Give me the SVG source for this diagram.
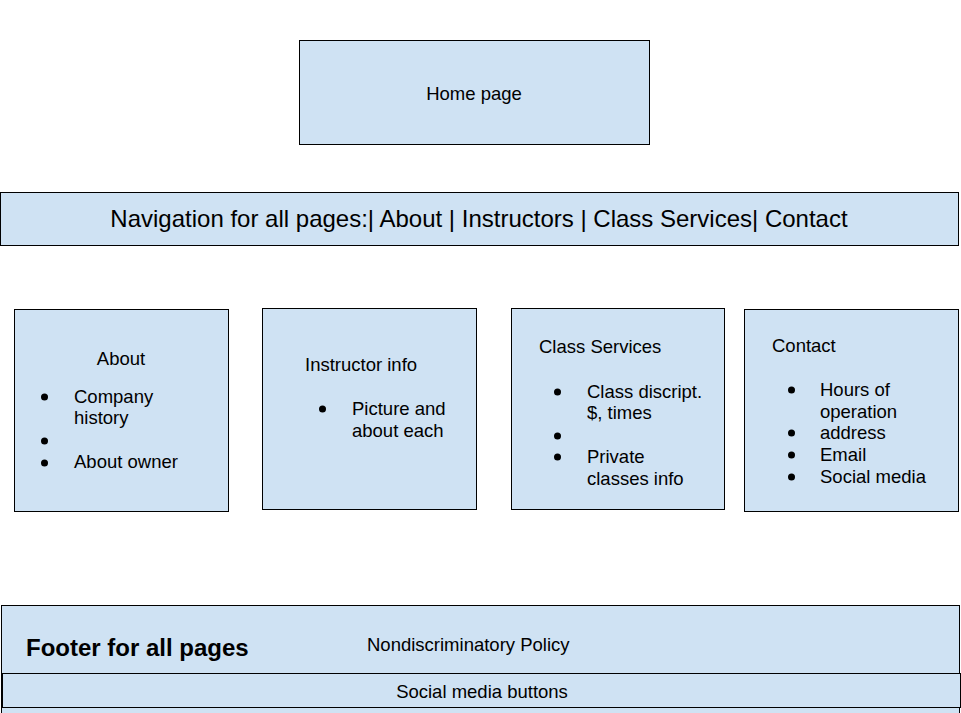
<svg xmlns="http://www.w3.org/2000/svg" width="961" height="713" viewBox="0 0 961 713">
<style>
.box{fill:#cfe2f3;stroke:#000;stroke-width:1}
text{font-family:"Liberation Sans",Arial,sans-serif;font-size:18.5px;fill:#000}
.big{font-size:24px}
.bold{font-weight:bold}
.mid{text-anchor:middle}
.dot{fill:#000}
</style>
<rect width="961" height="713" fill="#fff"/>
<g id="home">
<rect class="box" x="299.5" y="40.5" width="350" height="104"/>
<text class="mid" x="474" y="100">Home page</text>
</g>
<g id="nav">
<rect class="box" x="0.5" y="192.5" width="958" height="53"/>
<text class="big mid" x="479" y="227">Navigation for all pages:| About | Instructors | Class Services| Contact</text>
</g>
<g id="about">
<rect class="box" x="14.5" y="309.5" width="214" height="202"/>
<text class="mid" x="121" y="365">About</text>
<circle class="dot" cx="44.5" cy="397" r="3.5"/>
<text x="74" y="403">Company</text>
<text x="74" y="424">history</text>
<circle class="dot" cx="44.5" cy="441" r="3.5"/>
<circle class="dot" cx="44.5" cy="463" r="3.5"/>
<text x="74" y="468">About owner</text>
</g>
<g id="instructors">
<rect class="box" x="262.5" y="308.5" width="214" height="201"/>
<text x="305" y="371">Instructor info</text>
<circle class="dot" cx="322.5" cy="409" r="3.5"/>
<text x="352" y="415">Picture and</text>
<text x="352" y="437">about each</text>
</g>
<g id="classes">
<rect class="box" x="511.5" y="308.5" width="213" height="201"/>
<text x="539" y="353">Class Services</text>
<circle class="dot" cx="557.5" cy="392" r="3.5"/>
<text x="587" y="398">Class discript.</text>
<text x="587" y="419">$, times</text>
<circle class="dot" cx="557.5" cy="436" r="3.5"/>
<circle class="dot" cx="557.5" cy="457" r="3.5"/>
<text x="587" y="463">Private</text>
<text x="587" y="485">classes info</text>
</g>
<g id="contact">
<rect class="box" x="744.5" y="309.5" width="214" height="202"/>
<text x="772" y="352">Contact</text>
<circle class="dot" cx="791.5" cy="390" r="3.5"/>
<text x="820" y="396">Hours of</text>
<text x="820" y="418">operation</text>
<circle class="dot" cx="791.5" cy="433" r="3.5"/>
<text x="820" y="439">address</text>
<circle class="dot" cx="791.5" cy="455" r="3.5"/>
<text x="820" y="461">Email</text>
<circle class="dot" cx="791.5" cy="477" r="3.5"/>
<text x="820" y="483">Social media</text>
</g>
<g id="footer">
<rect class="box" x="1.5" y="605.5" width="958" height="120"/>
<text class="big bold" x="26" y="656">Footer for all pages</text>
<text x="367" y="651">Nondiscriminatory Policy</text>
</g>
<g id="social">
<rect class="box" x="2.5" y="673.5" width="958" height="34"/>
<text class="mid" x="482" y="698">Social media buttons</text>
</g>
<g id="connectors"></g>
</svg>
